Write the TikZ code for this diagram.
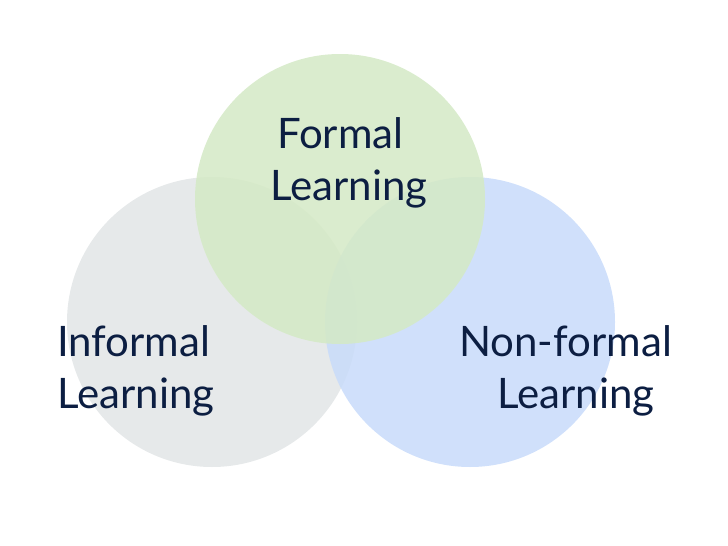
\documentclass[tikz,border=0pt]{standalone}
\usepackage{fontspec}
\setmainfont{Lato}
\definecolor{ink}{HTML}{0C1E42}
\definecolor{grayset}{HTML}{E6E9EA}
\definecolor{blueset}{HTML}{C8DBFA}
\definecolor{greenset}{HTML}{D4E9C5}
\begin{document}
\begin{tikzpicture}[
	x = 1pt, y = -1pt,
	set/.style = {circle, minimum size=290pt, inner sep=0pt},
	word/.style = {anchor=base west, inner sep=0pt, text=ink, font=\fontsize{42}{50}\selectfont}
	]
	
	\useasboundingbox (0,0) rectangle (728,546);
	% the three circles
	\node[set, fill=grayset] (informal) at (212,322) {};
	\node[set, fill=blueset, fill opacity=0.85] (nonformal) at (470,322) {};
	\node[set, fill=greenset, fill opacity=0.85] (formal) at (340,199) {};
	
	% labels
	\node[word] (formal1) at (277,148) {Formal};
	\node[word] (formal2) at (270,200) {Learning};
	\node[word] (informal1) at (57,356) {Informal};
	\node[word] (informal2) at (57,408) {Learning};
	\node[word] (nonformal1) at (459,356) {Non-formal};
	\node[word] (nonformal2) at (497,408) {Learning};
\end{tikzpicture}
\end{document}
